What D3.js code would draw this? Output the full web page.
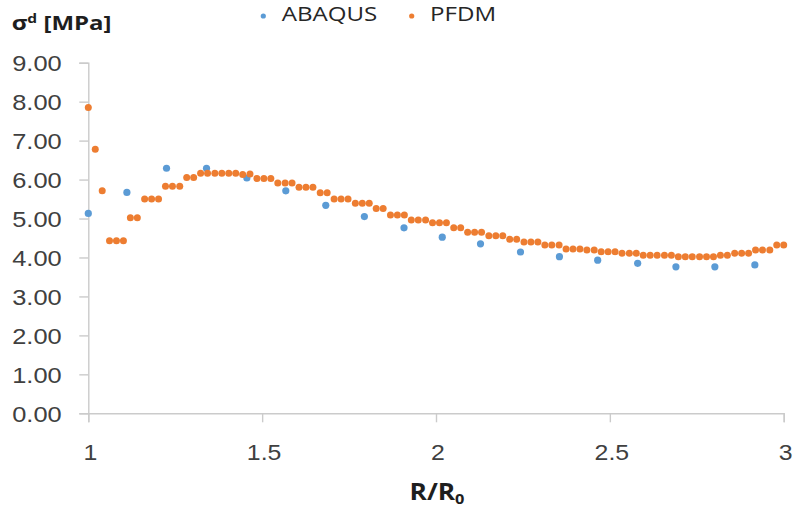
<!DOCTYPE html>
<html>
<head>
<meta charset="utf-8">
<script src="https://cdn.jsdelivr.net/npm/d3@7"></script>
<style>
  html, body { margin: 0; padding: 0; background: #fff; }
  svg { display: block; font-family: "Open Sans", "Noto Sans", sans-serif; }
</style>
</head>
<body>
<svg id="chart" width="794" height="507"></svg>
<script>
// Normalised radius R/R0 and stress sigma^d for the two solutions
const seriesNames = ["ABAQUS", "PFDM"];
const seriesColors = ["#5B9BD5", "#ED7D31"];

const abaqusX = [1.000, 1.111, 1.225, 1.340, 1.456, 1.568, 1.683, 1.794, 1.908,
                 2.018, 2.128, 2.243, 2.355, 2.465, 2.580, 2.690, 2.802, 2.917];
const abaqusY = [5.13, 5.67, 6.29, 6.29, 6.04, 5.71, 5.34, 5.05, 4.76,
                 4.52, 4.35, 4.14, 4.02, 3.93, 3.85, 3.76, 3.76, 3.81];

const pfdmX = [1.000, 1.020, 1.040, 1.061, 1.081, 1.101, 1.121, 1.141, 1.162, 1.182,
               1.202, 1.222, 1.242, 1.263, 1.283, 1.303, 1.323, 1.343, 1.364, 1.384,
               1.404, 1.424, 1.444, 1.465, 1.485, 1.505, 1.525, 1.545, 1.566, 1.586,
               1.606, 1.626, 1.646, 1.667, 1.687, 1.707, 1.727, 1.747, 1.768, 1.788,
               1.808, 1.828, 1.848, 1.869, 1.889, 1.909, 1.929, 1.949, 1.970, 1.990,
               2.010, 2.030, 2.051, 2.071, 2.091, 2.111, 2.131, 2.152, 2.172, 2.192,
               2.212, 2.232, 2.253, 2.273, 2.293, 2.313, 2.333, 2.354, 2.374, 2.394,
               2.414, 2.434, 2.455, 2.475, 2.495, 2.515, 2.535, 2.556, 2.576, 2.596,
               2.616, 2.636, 2.657, 2.677, 2.697, 2.717, 2.737, 2.758, 2.778, 2.798,
               2.818, 2.838, 2.859, 2.879, 2.899, 2.919, 2.939, 2.960, 2.980, 3.000];
const pfdmY = [7.85, 6.78, 5.71, 4.43, 4.43, 4.43, 5.02, 5.02, 5.50, 5.50,
               5.50, 5.83, 5.83, 5.83, 6.05, 6.05, 6.16, 6.16, 6.16, 6.16,
               6.16, 6.16, 6.13, 6.14, 6.03, 6.03, 6.03, 5.91, 5.91, 5.91,
               5.80, 5.80, 5.80, 5.66, 5.66, 5.50, 5.50, 5.50, 5.39, 5.39,
               5.39, 5.26, 5.26, 5.09, 5.09, 5.09, 4.96, 4.96, 4.96, 4.89,
               4.89, 4.89, 4.76, 4.76, 4.65, 4.65, 4.65, 4.56, 4.56, 4.56,
               4.47, 4.47, 4.40, 4.40, 4.40, 4.32, 4.32, 4.32, 4.22, 4.22,
               4.22, 4.19, 4.19, 4.15, 4.15, 4.15, 4.11, 4.11, 4.11, 4.06,
               4.06, 4.06, 4.06, 4.06, 4.02, 4.02, 4.02, 4.02, 4.02, 4.02,
               4.06, 4.06, 4.11, 4.11, 4.11, 4.19, 4.19, 4.19, 4.32, 4.32];

const xTicks = [1, 1.5, 2, 2.5, 3];
const yTicks = [0, 1, 2, 3, 4, 5, 6, 7, 8, 9];

const svg = d3.select("#chart");
const margin = { left: 88.3, right: 10.3, top: 62.7, bottom: 93.7 };
const W = 794, H = 507;

const x = d3.scaleLinear().domain([1, 3]).range([margin.left, W - margin.right]);
const y = d3.scaleLinear().domain([0, 9]).range([H - margin.bottom, margin.top]);

const axisColor = "#cbcbcb";
const labelColor = "#404040";
const stretch = 1.13;   // horizontal stretch of the label glyphs

// Y axis
const gy = svg.append("g")
  .attr("transform", `translate(${margin.left},0)`)
  .call(d3.axisLeft(y).tickValues(yTicks).tickSize(9).tickSizeOuter(9)
        .tickFormat(d3.format(".2f")));
gy.selectAll("path, line").attr("stroke", axisColor).attr("stroke-width", 1.4);
gy.selectAll("text")
  .attr("x", null).attr("dy", null)
  .attr("fill", labelColor)
  .attr("font-size", 22.5)
  .attr("text-anchor", "end")
  .attr("dominant-baseline", "central")
  .attr("transform", `translate(-26.6,0) scale(${stretch},1)`);

// X axis
const gx = svg.append("g")
  .attr("transform", `translate(0,${y(0)})`)
  .call(d3.axisBottom(x).tickValues(xTicks).tickSize(9).tickSizeOuter(9)
        .tickFormat(d3.format("")));
gx.selectAll("path, line").attr("stroke", axisColor).attr("stroke-width", 1.4);
gx.selectAll("text")
  .attr("y", null).attr("dy", null)
  .attr("fill", labelColor)
  .attr("font-size", 22)
  .attr("text-anchor", "middle")
  .attr("transform", `translate(1.5,46.7) scale(${stretch},1)`);

// Markers: ABAQUS beneath, PFDM on top
const abaqus = abaqusX.map((v, i) => ({ x: v, y: abaqusY[i] }));
const pfdm = pfdmX.map((v, i) => ({ x: v, y: pfdmY[i] }));

svg.append("g").selectAll("circle").data(abaqus).join("circle")
  .attr("cx", d => x(d.x)).attr("cy", d => y(d.y)).attr("r", 3.6)
  .attr("fill", seriesColors[0]);

svg.append("g").selectAll("circle").data(pfdm).join("circle")
  .attr("cx", d => x(d.x)).attr("cy", d => y(d.y)).attr("r", 3.5)
  .attr("fill", seriesColors[1]);

// Y axis title: sigma^d [MPa]
const yTitle = svg.append("text")
  .attr("font-weight", "bold").attr("font-size", 20).attr("fill", "#1e1e1e")
  .attr("transform", "translate(11.7,30) scale(1.2,1)");
yTitle.append("tspan").text("σ");
yTitle.append("tspan").attr("font-size", 13).attr("dy", -7).text("d");
yTitle.append("tspan").attr("dy", 7).text(" [MPa]");

// X axis title: R/R0
const xTitle = svg.append("text")
  .attr("font-weight", "bold").attr("font-size", 22.5).attr("fill", "#1e1e1e")
  .attr("text-anchor", "middle")
  .attr("transform", `translate(${x(2) + 1},500) scale(1.17,1)`);
xTitle.append("tspan").text("R/R");
xTitle.append("tspan").attr("font-size", 14).attr("dy", 4).text("0");

// Legend
const legendX = [263.3, 411.7];
const legend = svg.append("g");
seriesNames.forEach((name, i) => {
  legend.append("circle")
    .attr("cx", legendX[i]).attr("cy", 16).attr("r", 2.6)
    .attr("fill", seriesColors[i]);
  legend.append("text")
    .attr("font-size", 19.6).attr("fill", "#262626")
    .attr("transform", `translate(${legendX[i] + 18.4},20.7) scale(1.23,1)`)
    .text(name);
});
</script>
</body>
</html>
